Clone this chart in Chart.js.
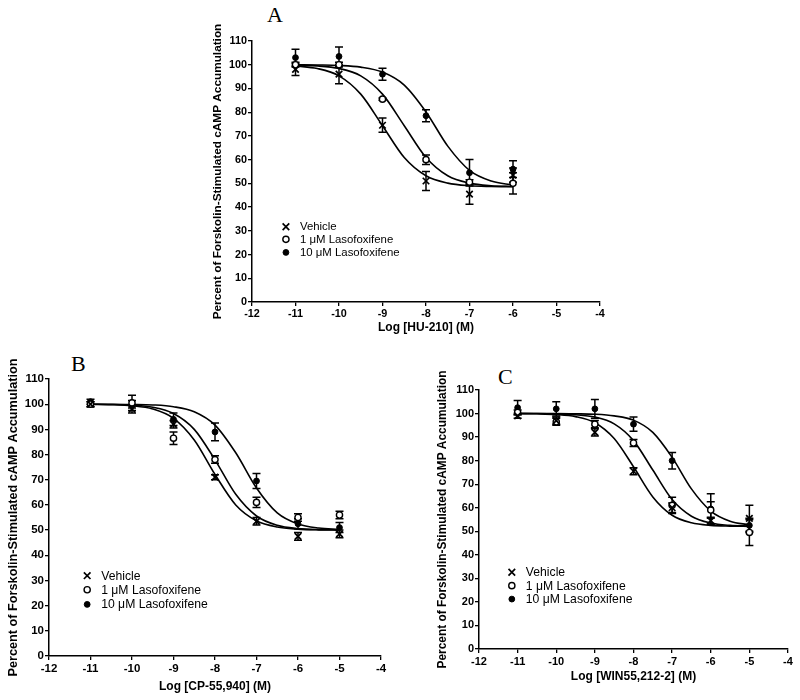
<!DOCTYPE html>
<html lang="en">
<head>
<meta charset="UTF-8">
<title>Lasofoxifene - cAMP</title>
<script src="https://cdn.jsdelivr.net/npm/chart.js"></script>
<style>
    body {
        margin: 0;
        background: #fff;
        width: 800px;
        height: 700px;
        position: relative;
        overflow: hidden;
        font-family: "Liberation Sans", Arial, sans-serif;
    }
    canvas { position: absolute; }
    .letter {
        position: absolute;
        font-family: "Liberation Serif", "Times New Roman", serif;
        font-size: 22px;
        line-height: 1;
        color: #000;
    }
</style>
</head>
<body>
<div class="letter" style="left:267px; top:4px;">A</div>
<div class="letter" style="left:71px; top:353px;">B</div>
<div class="letter" style="left:498px; top:366px;">C</div>

<canvas id="chartA" width="405" height="320" style="left:205px; top:15px;"></canvas>
<canvas id="chartB" width="391" height="344" style="left:0px; top:350px;"></canvas>
<canvas id="chartC" width="368" height="322" style="left:430px; top:362px;"></canvas>

<script>
// log concentrations (M)
const logConcA = [-11, -10, -9, -8, -7, -6];
const logConcBC = [-11, -10, -9, -8, -7, -6, -5];

// A: HU-210  (mean, SEM)
const vehA = [98, 96, 74.5, 51, 45.5, 53.5];
const vehAErr = [2.5, 4, 3, 4, 4.3, 3];
const las1A = [100, 100, 85.5, 60, 50.5, 50];
const las1AErr = [1, 1, 0.5, 2, 1, 4.5];
const las10A = [103, 103.5, 96, 78.5, 54.5, 56];
const las10AErr = [3.5, 4, 2.5, 2.5, 5.6, 3.5];

// B: CP-55,940
const vehB = [100, 98, 92, 71, 53.5, 47.5, 48.5];
const vehBErr = [1, 1.5, 1.5, 1, 1.5, 1.5, 1.5];
const las1B = [100, 100.5, 86.5, 78, 61, 55, 56];
const las1BErr = [1, 3, 2.5, 1.5, 2, 1.5, 1.5];
const las10B = [101, 100, 94, 89, 69.5, 52.5, 51];
const las10BErr = [1, 1.5, 2.5, 3.5, 3, 2, 2];

// C: WIN55,212-2
const vehC = [99, 97, 92, 75.5, 60, 54.5, 55.5];
const vehCErr = [1, 1.5, 1.5, 1.5, 2, 1.5, 5.5];
const las1C = [100.5, 96.5, 95.5, 87.5, 61, 59, 49.5];
const las1CErr = [1, 1.5, 1.5, 1.5, 3.5, 3.5, 5.5];
const las10C = [102.5, 102, 102, 95.5, 80, 59.5, 52.5];
const las10CErr = [3, 3, 4, 3, 3.5, 6.4, 3];

// fitted curves, every half log unit
const curveXA = [-11, -10.5, -10, -9.5, -9, -8.5, -8, -7.5, -7, -6.5, -6];
const vehAFit = [99.5, 98.4, 95.3, 87.6, 74.3, 60.9, 53.2, 50.1, 49.0, 48.7, 48.6];
const las1AFit = [99.8, 99.5, 98.4, 95.3, 87.6, 74.3, 60.9, 53.2, 50.1, 49.0, 48.7];
const las10AFit = [100.0, 99.9, 99.7, 99.0, 96.9, 91.4, 80.1, 65.7, 55.5, 51.0, 49.3];

const curveXBC = [-11, -10.5, -10, -9.5, -9, -8.5, -8, -7.5, -7, -6.5, -6, -5.5, -5];
const vehBFit = [99.9, 99.8, 99.4, 98.1, 94.4, 85.8, 72.1, 60.0, 53.7, 51.2, 50.4, 50.1, 50.0];
const las1BFit = [100.0, 99.9, 99.6, 98.8, 96.3, 90.0, 77.9, 64.2, 55.6, 51.9, 50.6, 50.2, 50.1];
const las10BFit = [100.0, 100.0, 99.9, 99.7, 99.0, 97.0, 91.7, 80.7, 66.7, 56.8, 52.4, 50.8, 50.3];

const vehCFit = [100.0, 99.9, 99.6, 98.7, 96.1, 89.4, 77.4, 64.6, 56.8, 53.6, 52.5, 52.2, 52.1];
const las1CFit = [100.0, 100.0, 99.8, 99.5, 98.5, 95.6, 88.5, 76.0, 63.5, 56.4, 53.5, 52.5, 52.2];
const las10CFit = [100.0, 100.0, 100.0, 99.9, 99.7, 99.0, 97.2, 92.0, 81.4, 68.0, 58.6, 54.3, 52.7];

const seriesNames = ['Vehicle', '1 \u03bcM Lasofoxifene', '10 \u03bcM Lasofoxifene'];
const yTitle = 'Percent of Forskolin-Stimulated cAMP Accumulation';
const FONT = '"Liberation Sans", Arial, sans-serif';

// エラーバー（SEM）
const errorBars = {
    id: 'errorBars',
    beforeDatasetsDraw(chart) {
        const ctx = chart.ctx;
        const xs = chart.scales.x, ys = chart.scales.y;
        ctx.save();
        ctx.strokeStyle = '#000';
        ctx.lineWidth = 1.5;
        chart.data.datasets.forEach(ds => {
            if (!ds.err) return;
            ds.data.forEach((pt, i) => {
                const e = ds.err[i];
                const px = xs.getPixelForValue(pt.x);
                const top = ys.getPixelForValue(pt.y + e);
                const bot = ys.getPixelForValue(pt.y - e);
                ctx.beginPath();
                ctx.moveTo(px, top); ctx.lineTo(px, bot);
                ctx.moveTo(px - 4, top); ctx.lineTo(px + 4, top);
                ctx.moveTo(px - 4, bot); ctx.lineTo(px + 4, bot);
                ctx.stroke();
            });
        });
        ctx.restore();
    }
};

function drawMarker(ctx, ds, x, y) {
    ctx.save();
    ctx.strokeStyle = '#000';
    ctx.lineWidth = ds.borderWidth;
    if (ds.pointStyle === 'crossRot') {
        const r = ds.pointRadius * 0.72;
        ctx.beginPath();
        ctx.moveTo(x - r, y - r); ctx.lineTo(x + r, y + r);
        ctx.moveTo(x - r, y + r); ctx.lineTo(x + r, y - r);
        ctx.stroke();
    } else {
        ctx.beginPath();
        ctx.arc(x, y, ds.pointRadius, 0, Math.PI * 2);
        ctx.fillStyle = ds.backgroundColor;
        ctx.fill();
        ctx.stroke();
    }
    ctx.restore();
}

// 凡例はプロットの中に描く
const insetLegend = {
    id: 'insetLegend',
    afterDatasetsDraw(chart, args, opts) {
        const ctx = chart.ctx;
        const mx = chart.scales.x.getPixelForValue(opts.x);
        ctx.save();
        ctx.font = opts.fontSize + 'px ' + FONT;
        ctx.textBaseline = 'middle';
        ctx.fillStyle = '#000';
        chart.data.datasets.slice(0, 3).forEach((ds, i) => {
            const my = chart.scales.y.getPixelForValue(opts.rows[i]);
            drawMarker(ctx, ds, mx, my);
            ctx.fillText(ds.label, mx + opts.gap, my + 0.5);
        });
        ctx.restore();
    }
};

function pts(xs, ys) {
    return xs.map((x, i) => ({ x: x, y: ys[i] }));
}

function makePanel(id, p) {
    const markers = [
        { label: seriesNames[0], data: pts(p.x, p.means[0]), err: p.errs[0],
          pointStyle: 'crossRot', pointRadius: 4.6, borderWidth: 1.7,
          borderColor: '#000', backgroundColor: '#000' },
        { label: seriesNames[1], data: pts(p.x, p.means[1]), err: p.errs[1],
          pointStyle: 'circle', pointRadius: 3.1, borderWidth: 1.4,
          borderColor: '#000', backgroundColor: '#fff' },
        { label: seriesNames[2], data: pts(p.x, p.means[2]), err: p.errs[2],
          pointStyle: 'circle', pointRadius: 2.9, borderWidth: 1,
          borderColor: '#000', backgroundColor: '#000' }
    ];
    const curves = p.fits.map((f, i) => ({
        label: seriesNames[i] + ' fit',
        data: pts(p.curveX, f),
        showLine: true,
        pointRadius: 0,
        borderColor: '#000',
        borderWidth: 1.6,
        cubicInterpolationMode: 'monotone',
        fill: false
    }));

    return new Chart(document.getElementById(id), {
        type: 'scatter',
        data: { datasets: markers.concat(curves) },
        options: {
            responsive: false,
            animation: false,
            events: [],
            layout: { padding: { top: p.padTop, right: 10, left: 0, bottom: 0 } },
            plugins: {
                legend: { display: false },
                tooltip: { enabled: false },
                insetLegend: { x: p.legX, rows: p.legRows, fontSize: p.legFont, gap: 14 }
            },
            scales: {
                x: {
                    type: 'linear',
                    min: -12, max: -4,
                    afterFit: s => { s.height = p.xAxisH; },
                    ticks: { stepSize: 1, color: '#000', padding: 2,
                             font: { family: FONT, size: p.tickFont, weight: 'bold' } },
                    grid: { display: true, drawOnChartArea: false, drawTicks: true,
                            tickLength: 4, color: '#000', lineWidth: 1.3 },
                    border: { display: true, color: '#000', width: 1.5 },
                    title: { display: true, text: p.xTitle, color: '#000',
                             padding: { top: 0, bottom: 0 },
                             font: { family: FONT, size: 12, weight: 'bold' } }
                },
                y: {
                    min: 0, max: 110,
                    afterFit: s => { s.width = p.yAxisW; },
                    ticks: { stepSize: 10, color: '#000', padding: 1,
                             font: { family: FONT, size: p.tickFont, weight: 'bold' } },
                    grid: { display: true, drawOnChartArea: false, drawTicks: true,
                            tickLength: 4, color: '#000', lineWidth: 1.3 },
                    border: { display: true, color: '#000', width: 1.5 },
                    title: { display: true, text: yTitle, color: '#000',
                             padding: { top: p.yTitlePad, bottom: 0 },
                             font: { family: FONT, size: p.yTitleFont, weight: 'bold' } }
                }
            }
        },
        plugins: [errorBars, insetLegend]
    });
}

makePanel('chartA', {
    x: logConcA, curveX: curveXA,
    means: [vehA, las1A, las10A], errs: [vehAErr, las1AErr, las10AErr],
    fits: [vehAFit, las1AFit, las10AFit],
    xTitle: 'Log [HU-210] (M)', padTop: 26,
    yAxisW: 47, xAxisH: 33, yTitlePad: 6, yTitleFont: 11.8, tickFont: 10.8,
    legX: -11.22, legRows: [31.7, 26.4, 20.9], legFont: 11.4
});

makePanel('chartB', {
    x: logConcBC, curveX: curveXBC,
    means: [vehB, las1B, las10B], errs: [vehBErr, las1BErr, las10BErr],
    fits: [vehBFit, las1BFit, las10BFit],
    xTitle: 'Log [CP-55,940] (M)', padTop: 29,
    yAxisW: 49, xAxisH: 38, yTitlePad: 5.4, yTitleFont: 12.7, tickFont: 11.5,
    legX: -11.08, legRows: [31.9, 26.3, 20.5], legFont: 12.2
});

makePanel('chartC', {
    x: logConcBC, curveX: curveXBC,
    means: [vehC, las1C, las10C], errs: [vehCErr, las1CErr, las10CErr],
    fits: [vehCFit, las1CFit, las10CFit],
    xTitle: 'Log [WIN55,212-2] (M)', padTop: 28,
    yAxisW: 49, xAxisH: 35, yTitlePad: 6, yTitleFont: 11.9, tickFont: 11,
    legX: -11.15, legRows: [32.6, 26.9, 21.2], legFont: 12.2
});
</script>
</body>
</html>
